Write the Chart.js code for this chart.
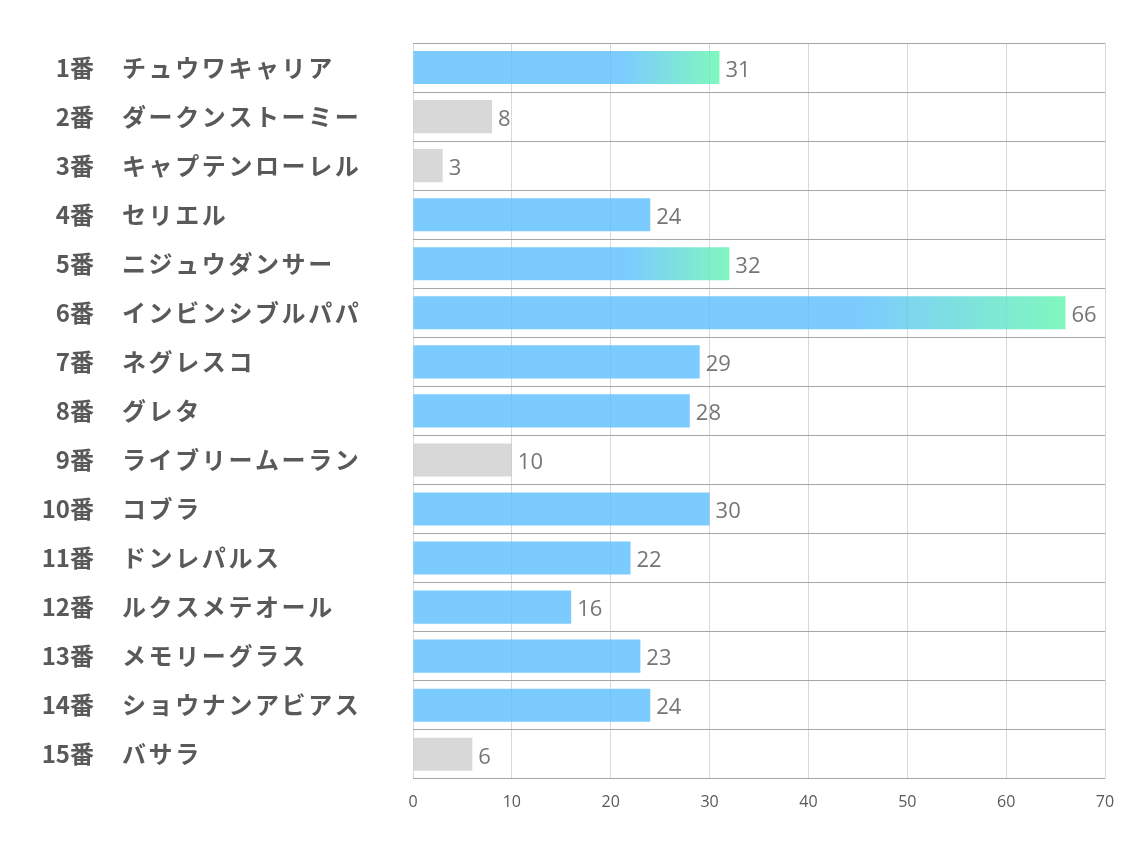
<!DOCTYPE html>
<html>
<head>
<meta charset="utf-8">
<script src="https://cdn.jsdelivr.net/npm/chart.js@4.4.0/dist/chart.umd.min.js"></script>
<style>
  html, body { margin: 0; padding: 0; background: #fff; }
  #wrap { width: 1134px; height: 850px; }
</style>
</head>
<body>
<div id="wrap"><canvas id="chart"></canvas></div>
<script>
const numbers = ['1番', '2番', '3番', '4番', '5番', '6番', '7番', '8番', '9番', '10番', '11番', '12番', '13番', '14番', '15番'];
const horses = ['チュウワキャリア', 'ダークンストーミー', 'キャプテンローレル', 'セリエル', 'ニジュウダンサー', 'インビンシブルパパ', 'ネグレスコ', 'グレタ', 'ライブリームーラン', 'コブラ', 'ドンレパルス', 'ルクスメテオール', 'メモリーグラス', 'ショウナンアビアス', 'バサラ'];
const scores = [31, 8, 3, 24, 32, 66, 29, 28, 10, 30, 22, 16, 23, 24, 6];
const xTicks = [0, 10, 20, 30, 40, 50, 60, 70];

const BLUE = 'rgba(91, 190, 255, 0.8)';
const GREEN = 'rgba(96, 245, 175, 0.8)';
const GRAY = 'rgba(200, 200, 200, 0.7)';
const labelFont = '"Noto Sans CJK JP", "Noto Sans", sans-serif';

// top 3 get the gradient, low ones go gray
const top3 = [...scores].sort((a, b) => b - a).slice(0, 3);

function barColor(ctx) {
  const v = scores[ctx.dataIndex];
  if (v <= 10) return GRAY;
  if (!top3.includes(v)) return BLUE;
  const chart = ctx.chart;
  if (!chart.chartArea) return BLUE;
  const x0 = chart.scales.x.getPixelForValue(0);
  const x1 = chart.scales.x.getPixelForValue(v);
  const g = chart.ctx.createLinearGradient(x0, 0, x1, 0);
  g.addColorStop(0, BLUE);
  g.addColorStop(0.68, BLUE);
  g.addColorStop(1, GREEN);
  return g;
}

const labelsPlugin = {
  id: 'labels',
  afterDatasetsDraw(chart) {
    const c = chart.ctx;
    const meta = chart.getDatasetMeta(0);
    c.save();
    // values at bar ends
    c.font = '22px "Open Sans", "Noto Sans", sans-serif';
    c.fillStyle = '#767676';
    c.textAlign = 'left';
    c.textBaseline = 'middle';
    meta.data.forEach((bar, i) => {
      c.fillText(String(scores[i]), bar.x + 6, bar.y + 3);
    });
    // category labels: number right aligned, name left aligned
    c.font = 'bold 24px ' + labelFont;
    c.fillStyle = '#595959';
    const y = chart.scales.y;
    horses.forEach((name, i) => {
      const py = y.getPixelForValue(i);
      c.textAlign = 'right';
      c.letterSpacing = '0px';
      c.fillText(numbers[i], 94, py);
      c.textAlign = 'left';
      c.letterSpacing = '2.6px';
      c.fillText(name, 122, py);
    });
    c.restore();
  }
};

new Chart(document.getElementById('chart'), {
  type: 'bar',
  data: {
    labels: horses,
    datasets: [{
      data: scores,
      backgroundColor: barColor,
      borderWidth: 0,
      barPercentage: 0.9,
      categoryPercentage: 0.75
    }]
  },
  options: {
    indexAxis: 'y',
    responsive: true,
    maintainAspectRatio: false,
    animation: false,
    layout: { padding: { left: 413, top: 43, right: 29, bottom: 24 } },
    plugins: { legend: { display: false }, tooltip: { enabled: false } },
    scales: {
      x: {
        min: 0,
        max: 70,
        afterBuildTicks: axis => { axis.ticks = xTicks.map(v => ({ value: v })); },
        afterFit: axis => { axis.paddingLeft = 0; axis.paddingRight = 0; },
        grid: { color: '#d9d9d9', drawTicks: false },
        border: { display: false },
        ticks: {
          color: '#595959',
          padding: 14,
          font: { family: '"Open Sans", sans-serif', size: 16 }
        }
      },
      y: {
        grid: { offset: true, color: '#a6a6a6', drawTicks: false },
        border: { display: false },
        ticks: { display: false }
      }
    }
  },
  plugins: [labelsPlugin]
});
</script>
</body>
</html>
